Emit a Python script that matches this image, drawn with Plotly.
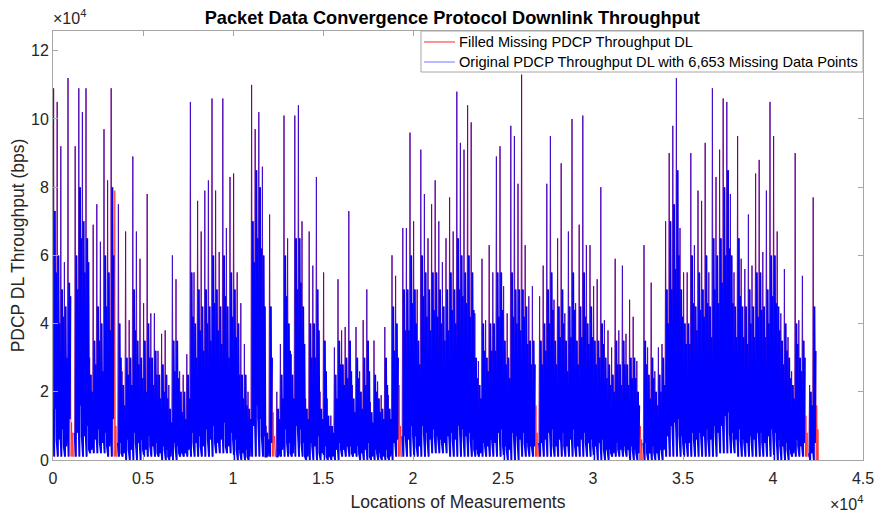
import plotly.graph_objects as go

# ---------------- data (values in units of 1e4 bps) ----------------
bin_width = 200          # measurement locations per bin
seg_width = 1000         # locations per segment for the dip values

# highest spike per bin
peaks = [
    10.9, 10.5, 9.2, 5.8, 11.2, 5.3, 9.2, 10.9, 10.2, 10.9, 3.0, 6.9, 7.5, 6.4, 9.7, 8.2, 10.9, 7.9, 7.5, 2.6,
    6.7, 4.1, 8.9, 6.7, 5.9, 4.6, 7.8, 4.3, 4.3, 3.2, 3.7, 3.8, 2.2, 6.0, 5.3, 2.6, 2.5,
    3.1, 10.5, 5.5, 7.6, 6.7, 7.9, 8.2, 10.6, 7.9, 6.1, 10.6, 6.8, 8.3, 8.4, 5.5, 4.6, 3.4, 2.0, 11.0,
    9.7, 10.2, 8.6, 1.0, 7.2, 5.4, 2.0, 3.4, 10.1, 6.5, 3.1, 10.1, 10.4, 7.0, 1.8, 6.7, 5.7, 8.3,
    2.0, 5.5, 1.8, 1.3, 3.3, 5.3, 3.8, 3.9, 7.3, 2.2, 3.9, 2.6, 4.1, 5.0, 1.7, 3.5, 2.3, 1.9, 3.9, 1.9,
    6.0, 5.4, 7.2, 6.8, 6.8, 9.6, 7.0, 5.0, 9.1, 7.8, 6.5, 7.5, 8.2, 7.0, 5.8, 6.5, 7.7,
    6.7, 10.8, 9.3, 9.1, 10.4, 9.9, 4.3, 2.9, 5.9, 4.1, 6.3, 5.5, 8.9, 9.2, 5.1, 4.3, 9.8, 9.5, 8.1, 11.3,
    6.3, 4.8, 5.1, 2.6, 4.8, 5.7, 8.1, 9.5, 4.7, 6.5, 8.7, 4.3, 6.7, 10.0, 4.6, 6.9, 10.1,
    6.3, 6.3, 5.1, 5.3, 8.0, 4.1, 3.8, 3.3, 5.9, 3.8, 5.7, 3.7, 4.7, 4.2, 2.9, 1.9, 6.3, 3.3, 5.2, 2.6,
    3.3, 3.4, 7.0, 9.0, 9.8, 11.2, 6.8, 5.5, 5.5, 9.0, 6.3, 7.9, 7.6, 9.3, 5.5, 10.9, 8.3,
    9.1, 10.6, 10.5, 7.8, 5.5, 9.5, 5.9, 5.6, 7.2, 5.7, 8.4, 8.8, 6.1, 7.9, 10.5, 9.5, 6.7, 4.3, 5.6, 3.6,
    2.6, 9.0, 4.1, 5.4, 4.1, 2.2, 7.7, 5.6,
]

# secondary spike per bin
mids = [
    7.3, 6.0, 5.0, 4.5, 5.2, 4.0, 6.0, 8.0, 7.0, 6.5, 2.5, 3.5, 4.5, 4.0, 6.0, 5.5, 8.0, 5.0, 4.0, 2.2,
    3.0, 3.0, 5.0, 3.5, 3.0, 3.5, 4.0, 3.0, 3.2, 2.5, 2.8, 2.5, 1.5, 3.5, 3.5, 2.0, 2.0,
    2.5, 5.5, 4.0, 5.0, 4.5, 5.0, 4.5, 6.0, 5.0, 4.5, 6.0, 4.5, 5.5, 5.0, 4.0, 2.5, 2.5, 1.5, 7.0,
    8.5, 8.0, 6.0, 0.8, 4.5, 3.5, 1.5, 2.5, 6.0, 4.0, 2.5, 6.5, 6.5, 4.5, 1.5, 4.0, 4.0, 5.0,
    1.5, 3.5, 1.3, 1.0, 2.5, 3.5, 2.8, 3.0, 3.5, 1.8, 3.0, 2.0, 3.0, 3.5, 1.4, 2.5, 1.8, 1.5, 3.0, 1.5,
    4.5, 4.0, 5.5, 5.0, 5.0, 6.0, 5.0, 3.5, 6.0, 5.5, 5.0, 5.5, 5.5, 5.0, 4.5, 5.0, 5.5,
    5.0, 6.5, 6.0, 5.5, 6.0, 5.5, 3.0, 2.2, 4.0, 3.0, 4.0, 4.0, 5.5, 5.5, 3.5, 3.0, 5.5, 5.0, 5.0, 5.0,
    4.5, 3.5, 3.5, 2.0, 3.5, 4.0, 5.0, 5.5, 3.5, 4.5, 5.0, 3.5, 4.5, 5.5, 3.5, 4.5, 5.5,
    4.0, 4.5, 3.5, 3.5, 4.0, 3.0, 2.8, 2.5, 3.5, 2.8, 3.5, 2.8, 3.0, 3.0, 2.0, 1.5, 3.5, 2.5, 3.0, 2.0,
    2.5, 3.0, 5.0, 7.0, 7.5, 8.5, 5.0, 4.0, 4.0, 6.0, 4.5, 5.5, 5.0, 6.0, 4.5, 6.5, 6.0,
    6.5, 8.0, 8.5, 6.0, 4.5, 6.5, 4.5, 4.5, 5.0, 4.5, 5.5, 5.5, 4.5, 5.0, 6.0, 6.0, 4.5, 3.5, 4.0, 3.0,
    2.2, 4.0, 3.0, 3.5, 3.0, 2.0, 4.5, 4.0,
]

# top of the dense band per bin
bodies = [
    5.5, 4.0, 4.2, 3.0, 4.8, 3.2, 5.0, 6.5, 5.5, 5.8, 2.0, 2.8, 3.5, 2.6, 4.5, 3.8, 6.0, 4.2, 3.0, 1.6,
    2.5, 2.2, 3.8, 2.8, 2.4, 2.0, 3.0, 2.2, 2.5, 1.8, 2.0, 1.8, 1.1, 2.6, 2.4, 1.4, 1.2, 1.8, 4.2, 3.0,
    3.8, 3.2, 4.0, 3.5, 4.6, 3.8, 3.4, 4.8, 3.0, 4.2, 3.6, 2.5, 1.8, 1.6, 1.2, 5.8, 6.5, 6.2, 4.5, 0.6,
    3.0, 2.6, 1.2, 1.8, 4.8, 3.2, 1.8, 5.0, 5.2, 3.4, 1.2, 3.0, 3.0, 3.8, 1.2, 2.6, 1.0, 0.8, 1.8, 2.8,
    2.2, 2.4, 2.6, 1.4, 2.4, 1.5, 2.2, 2.6, 1.1, 2.0, 1.4, 1.2, 2.2, 1.2, 3.2, 3.0, 4.0, 3.8, 3.8, 4.6,
    4.0, 2.8, 4.8, 4.2, 3.8, 4.4, 4.2, 4.0, 3.5, 3.8, 4.4, 4.0, 5.0, 4.8, 4.6, 4.2, 4.4, 2.4, 1.8, 3.2,
    2.6, 3.2, 3.2, 4.2, 4.4, 2.8, 2.4, 4.2, 4.0, 3.8, 4.2, 3.4, 2.8, 2.8, 1.6, 2.8, 3.2, 4.0, 4.4, 2.8,
    3.6, 4.0, 2.6, 3.6, 4.4, 2.8, 3.6, 4.2, 3.4, 3.6, 2.8, 3.0, 3.4, 2.4, 2.2, 2.0, 2.8, 2.2, 2.8, 2.2,
    2.4, 2.4, 1.6, 1.2, 2.8, 1.8, 2.4, 1.6, 2.0, 2.2, 4.0, 5.0, 5.6, 6.0, 4.2, 3.4, 3.4, 4.6, 3.8, 4.4,
    4.2, 4.6, 3.6, 5.0, 4.6, 5.2, 6.0, 6.2, 4.6, 3.6, 4.8, 3.6, 3.4, 4.0, 3.6, 4.2, 4.4, 3.6, 4.0, 4.8,
    4.6, 3.8, 2.8, 3.2, 2.4, 1.8, 3.4, 2.6, 3.0, 2.6, 1.6, 3.2, 2.8,
]

# lower edge of the dense band per bin
lows = [
    1.5, 0.6, 0.9, 0.4, 1.2, 0.5, 0.8, 1.6, 0.7, 1.0, 0.3, 0.6, 0.9, 0.5, 0.8, 0.4, 1.2, 0.7, 0.5, 0.2,
    0.6, 0.3, 0.8, 0.5, 0.6, 0.3, 0.7, 0.4, 0.5, 0.2, 0.4, 0.3, 0.1, 0.5, 0.4, 0.2, 0.2, 0.3, 0.8, 0.5,
    0.7, 0.4, 0.9, 0.6, 1.0, 0.5, 0.6, 1.1, 0.4, 0.8, 0.6, 0.3, 0.2, 0.3, 0.1, 1.0, 1.6, 1.2, 0.7, 0.1,
    0.5, 0.3, 0.1, 0.3, 0.9, 0.5, 0.2, 1.0, 0.9, 0.5, 0.1, 0.5, 0.4, 0.7, 0.2, 0.4, 0.1, 0.1, 0.3, 0.5,
    0.3, 0.4, 0.4, 0.2, 0.4, 0.2, 0.3, 0.5, 0.1, 0.3, 0.2, 0.1, 0.3, 0.1, 0.5, 0.6, 0.8, 0.7, 0.6, 1.0,
    0.7, 0.4, 1.0, 0.8, 0.6, 0.9, 0.7, 0.6, 0.5, 0.7, 0.8, 0.6, 1.0, 0.9, 0.7, 0.8, 0.6, 0.3, 0.2, 0.5,
    0.4, 0.6, 0.5, 0.8, 0.9, 0.4, 0.3, 0.8, 0.7, 0.6, 0.8, 0.5, 0.4, 0.4, 0.2, 0.5, 0.6, 0.8, 0.9, 0.4,
    0.6, 0.8, 0.4, 0.6, 0.9, 0.4, 0.6, 0.8, 0.5, 0.6, 0.4, 0.5, 0.6, 0.3, 0.3, 0.2, 0.5, 0.3, 0.4, 0.3,
    0.4, 0.3, 0.2, 0.1, 0.5, 0.2, 0.4, 0.2, 0.3, 0.3, 0.7, 1.0, 1.1, 1.2, 0.7, 0.5, 0.5, 0.8, 0.6, 0.8,
    0.7, 0.9, 0.6, 1.0, 0.8, 1.0, 1.3, 1.4, 0.8, 0.6, 0.9, 0.6, 0.5, 0.7, 0.6, 0.8, 0.8, 0.5, 0.7, 0.9,
    0.8, 0.6, 0.4, 0.5, 0.3, 0.2, 0.6, 0.4, 0.5, 0.4, 0.2, 0.5, 0.4,
]

# deepest dips per segment of 1000 locations
seg_dip = [0.1, 0.1, 0.2, 0.1, 0.0, 0.1, 0.0, 0.1, 0.1, 0.2, 0.0, 0.1, 0.1, 0.1, 0.0,
           0.0, 0.1, 0.0, 0.0, 0.1, 0.1, 0.2, 0.1, 0.1, 0.1, 0.0, 0.1, 0.1, 0.1, 0.1,
           0.0, 0.1, 0.0, 0.0, 0.1, 0.1, 0.1, 0.2, 0.1, 0.1, 0.0, 0.1, 0.0]

# bins where the original series is missing: values of the filled series there
gap_bins = [5, 17, 61, 96, 134, 163, 209, 212]
gap_peaks = [1.1, 7.9, 1.4, 2.2, 1.6, 1.0, 1.3, 1.6]
gap_mids = [0.8, 1.0, 0.7, 1.0, 0.8, 0.6, 0.8, 0.9]

x_tick_vals = [0, 5000, 10000, 15000, 20000, 25000, 30000, 35000, 40000, 45000]
x_tick_text = ["0", "0.5", "1", "1.5", "2", "2.5", "3", "3.5", "4", "4.5"]
y_tick_vals = [0, 20000, 40000, 60000, 80000, 100000, 120000]
y_tick_text = ["0", "2", "4", "6", "8", "10", "12"]

series_names = ["Filled Missing PDCP Throughput DL",
                "Original PDCP Throughput DL with 6,653 Missing Data Points"]

SCALE = 1e4

# ---------------- build series ----------------
gap_lookup = {b: (p, m) for b, p, m in zip(gap_bins, gap_peaks, gap_mids)}
fx, fy = [], []          # filled series
sx, sy = [], []          # original: spikes
bx, by = [], []          # original: dense band
sub = 6
for i, (p, m, bd, lo) in enumerate(zip(peaks, mids, bodies, lows)):
    dp = seg_dip[min(i * bin_width // seg_width, len(seg_dip) - 1)]
    xs = [i * bin_width + k * bin_width / sub for k in range(sub)]
    if i in gap_lookup:
        gp, gm = gap_lookup[i]
        seq = [dp, gp, dp, gm, dp, dp]
        fx += xs
        fy += [v * SCALE for v in seq]
        sx.append(None); sy.append(None)
        bx.append(None); by.append(None)
        continue
    seq = [lo, p, dp, m, lo, min(bd, p)]
    fx += xs
    fy += [v * SCALE for v in seq]
    sx += xs[:3] + [None]
    sy += [v * SCALE for v in seq[:3]] + [None]
    for k in (0, 2, 3, 4, 5):
        bx.append(xs[k]); by.append(seq[k] * SCALE)

red_line = "rgba(255,0,0,0.6)"
blue_line = "rgba(0,0,255,0.55)"

fig = go.Figure()
fig.add_trace(go.Scatter(x=fx, y=fy, mode="lines", name=series_names[0],
                         line=dict(color=red_line, width=1), hoverinfo="skip"))
fig.add_trace(go.Scatter(x=bx, y=by, mode="lines", name=series_names[1],
                         line=dict(color="#0000ff", width=1.9), hoverinfo="skip"))
fig.add_trace(go.Scatter(x=sx, y=sy, mode="lines", name=series_names[1],
                         line=dict(color=blue_line, width=1), hoverinfo="skip"))

font_family = "Liberation Sans, Arial, Helvetica, sans-serif"
axis_common = dict(showline=True, linecolor="#a6a6a6", linewidth=1, mirror="ticks",
                   ticks="inside", ticklen=5, tickcolor="#a6a6a6", showgrid=False, zeroline=False,
                   automargin=False,
                   tickfont=dict(family=font_family, size=16, color="#262626"))

# the page body adds an 8 px offset, so the figure is 8 px smaller than the window
fig.update_layout(
    width=874, height=506,
    margin=dict(l=45, r=19, t=23, b=54),
    paper_bgcolor="white", plot_bgcolor="white",
    font=dict(family=font_family, color="#262626"),
    showlegend=False,
    title=dict(text="<b>Packet Data Convergence Protocol Downlink Throughput</b>",
               xref="paper", x=0.493, xanchor="center", yref="container", y=0.981, yanchor="middle",
               font=dict(family=font_family, size=18.2, color="black")),
    xaxis=dict(range=[0, 45000], tickvals=x_tick_vals, ticktext=x_tick_text,
               ticklabelstandoff=4,
               title=dict(text="Locations of Measurements", standoff=9,
                          font=dict(family=font_family, size=17.5, color="#262626")),
               **axis_common),
    yaxis=dict(range=[0, 125800], tickvals=y_tick_vals, ticktext=y_tick_text,
               title=dict(text="PDCP DL Throughput (bps)", standoff=3,
                          font=dict(family=font_family, size=17.5, color="#262626")),
               **axis_common),
)

# legend box drawn in the top-right corner of the axes
leg_x0, leg_y0 = 0.4543, 0.9044
row_y = [0.9744, 0.9277]
sample_x = (0.458, 0.4963)
text_x = 0.4988
fig.add_shape(type="rect", xref="paper", yref="paper", x0=leg_x0, x1=1, y0=leg_y0, y1=1,
              line=dict(color="#a6a6a6", width=1), fillcolor="white", layer="above")
for name, col, yy in zip(series_names, ["#ff2a2a", blue_line], row_y):
    fig.add_shape(type="line", xref="paper", yref="paper", x0=sample_x[0], x1=sample_x[1],
                  y0=yy, y1=yy, line=dict(color=col, width=1), layer="above")
    fig.add_annotation(text=name, xref="paper", yref="paper", x=text_x, y=yy,
                       xanchor="left", yanchor="middle", showarrow=False,
                       font=dict(family=font_family, size=14.6, color="black"))

fig.add_annotation(text="×10<sup>4</sup>", xref="paper", yref="paper", x=0, y=1,
                   xanchor="left", yanchor="bottom", showarrow=False, yshift=2, xshift=-2,
                   font=dict(family=font_family, size=16, color="#262626"))
fig.add_annotation(text="×10<sup>4</sup>", xref="paper", yref="paper", x=1, y=0,
                   xanchor="right", yanchor="top", showarrow=False, yshift=-31, xshift=2,
                   font=dict(family=font_family, size=16, color="#262626"))

fig.write_html("out.html")
